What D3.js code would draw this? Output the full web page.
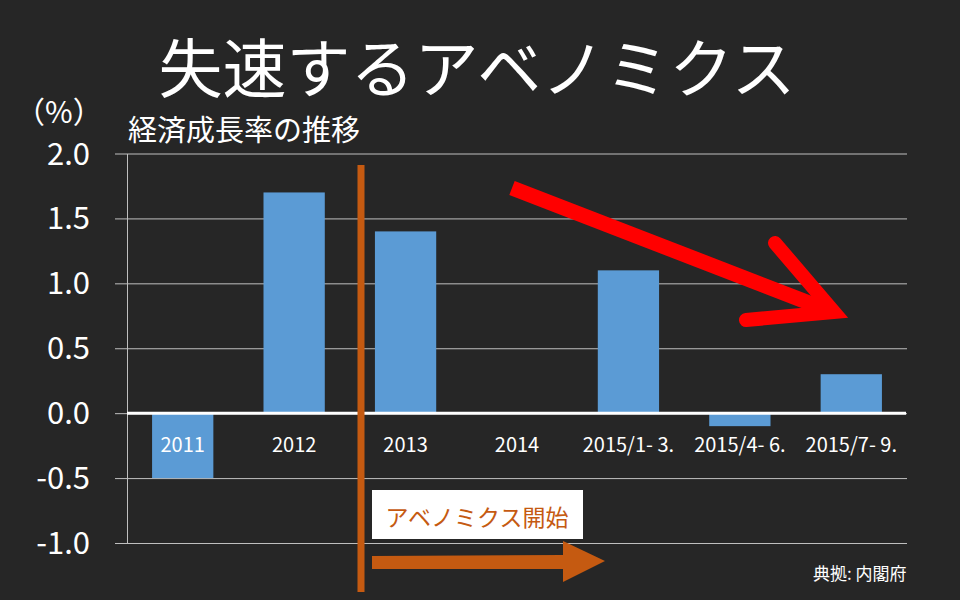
<!DOCTYPE html>
<html><head><meta charset="utf-8">
<script src="https://cdn.jsdelivr.net/npm/d3@7"></script>
<style>
html,body{margin:0;padding:0;background:#262626;}
svg{display:block;}
text{font-family:"Noto Sans CJK JP","Noto Sans",sans-serif;}
</style></head>
<body>
<svg id="chart" width="960" height="600"></svg>
<script>
const categories = ["2011","2012","2013","2014","2015/1- 3.","2015/4- 6.","2015/7- 9."];
const growthValues = [-0.5, 1.7, 1.4, 0.0, 1.1, -0.1, 0.3];
const yTicks = [-1.0, -0.5, 0.0, 0.5, 1.0, 1.5, 2.0];
const titleText = "失速するアベノミクス";
const subtitleText = "経済成長率の推移";
const unitText = "（%）";
const annotationText = "アベノミクス開始";
const sourceText = "典拠: 内閣府";

const svg = d3.select("#chart");
svg.append("rect").attr("width",960).attr("height",600).attr("fill","#262626");

const plotLeft = 127, plotRight = 907;
const x = d3.scaleBand().domain(categories).range([plotLeft, plotRight]).paddingInner(0.45).paddingOuter(0.225);
const y = d3.scaleLinear().domain([-1, 2]).range([543, 153.5]);

// gridlines + ticks
const yAxis = d3.axisLeft(y).tickValues(yTicks).tickSize(-(plotRight - plotLeft)).tickSizeOuter(0).tickFormat(d => d.toFixed(1));
const gAxis = svg.append("g").attr("transform",`translate(${plotLeft},0)`).call(yAxis);
gAxis.select(".domain").attr("stroke","#bfbfbf").attr("stroke-width",1);
gAxis.selectAll(".tick line").attr("stroke","#bfbfbf").attr("stroke-width",1).attr("x1",-12);
gAxis.selectAll(".tick text").attr("x",-37).attr("fill","#ffffff").attr("font-size",31)
  .attr("font-family","'Noto Sans CJK JP',sans-serif").attr("dy","0.34em");

// bars
svg.append("g").selectAll("rect").data(growthValues).join("rect")
  .attr("x",(d,i)=>x(categories[i]))
  .attr("width",x.bandwidth())
  .attr("y",d=>y(Math.max(0,d)))
  .attr("height",d=>Math.abs(y(d)-y(0)))
  .attr("fill","#5B9BD5");

// zero line
svg.append("line").attr("x1",plotLeft).attr("x2",plotRight-1).attr("y1",y(0)).attr("y2",y(0))
  .attr("stroke","#ffffff").attr("stroke-width",3);

// category labels
svg.append("g").selectAll("text").data(categories).join("text")
  .attr("x",d=>x(d)+x.bandwidth()/2).attr("y",y(0)+39)
  .attr("text-anchor","middle").attr("fill","#ffffff").attr("font-size",20).text(d=>d);

// title
svg.append("text").attr("x",477).attr("y",92).attr("text-anchor","middle").attr("fill","#ffffff")
  .attr("font-size",64).text(titleText);
svg.append("text").attr("x",128).attr("y",141).attr("fill","#ffffff").attr("font-size",29).text(subtitleText);
svg.append("text").attr("x",15).attr("y",123).attr("fill","#ffffff").attr("font-size",30).text(unitText);

// Abenomics start line
const orange = "#C55A11";
svg.append("line").attr("x1",361).attr("x2",361).attr("y1",165).attr("y2",592).attr("stroke",orange).attr("stroke-width",7);
svg.append("rect").attr("x",372).attr("y",490).attr("width",211).attr("height",49).attr("fill","#ffffff");
svg.append("text").attr("x",477).attr("y",526).attr("text-anchor","middle").attr("fill",orange).attr("font-size",23).text(annotationText);
svg.append("path").attr("d","M372,556 L563,555 L563,541 L605,561 L563,582 L563,569 L372,569 Z").attr("fill",orange);

// red arrow
svg.append("line").attr("x1",512).attr("y1",188).attr("x2",830).attr("y2",311).attr("stroke","#ff0000").attr("stroke-width",15);
svg.append("path").attr("d","M775,243 L834,312 L746,320").attr("fill","none").attr("stroke","#ff0000")
  .attr("stroke-width",14).attr("stroke-linecap","round").attr("stroke-linejoin","miter");

// source
svg.append("text").attr("x",813).attr("y",580).attr("fill","#ffffff").attr("font-size",17).text(sourceText);
</script>
</body></html>
